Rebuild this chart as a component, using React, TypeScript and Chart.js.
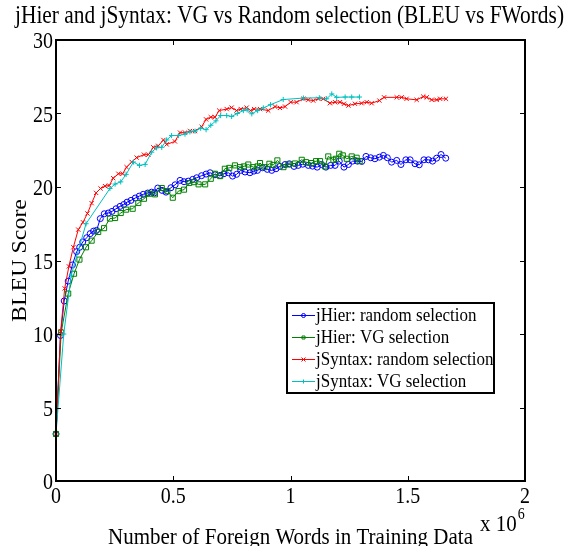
import React, { useEffect, useRef } from "react";
import { Chart, registerables } from "chart.js";

Chart.register(...registerables);

// ---------- text ----------
const titleText = "jHier and jSyntax: VG vs Random selection (BLEU vs FWords)";
const xAxisLabel = "Number of Foreign Words in Training Data";
const yAxisLabel = "BLEU Score";
const xExponentBase = "x 10";
const xExponent = "6";

// ---------- ticks ----------
const xTicks = [0, 0.5, 1, 1.5, 2];
const xTickLabels = ["0", "0.5", "1", "1.5", "2"];
const yTicks = [0, 5, 10, 15, 20, 25, 30];
const yTickLabels = ["0", "5", "10", "15", "20", "25", "30"];

// ---------- series names ----------
const seriesNames = [
  "jHier: random selection",
  "jHier: VG selection",
  "jSyntax: random selection",
  "jSyntax: VG selection",
];

// ---------- data (x in units of 10^6 foreign words) ----------
const hierRandomX = [0, 0.019, 0.035, 0.052, 0.07, 0.088, 0.101, 0.114, 0.131, 0.146, 0.16, 0.173, 0.189, 0.206, 0.223, 0.239, 0.256, 0.273, 0.289, 0.303, 0.32, 0.338, 0.355, 0.372, 0.391, 0.408, 0.42, 0.434, 0.452, 0.469, 0.49, 0.508, 0.529, 0.546, 0.564, 0.583, 0.6, 0.621, 0.64, 0.657, 0.678, 0.7, 0.716, 0.735, 0.753, 0.77, 0.788, 0.806, 0.827, 0.844, 0.859, 0.881, 0.901, 0.92, 0.938, 0.955, 0.977, 0.995, 1.015, 1.033, 1.052, 1.076, 1.094, 1.114, 1.133, 1.151, 1.171, 1.19, 1.208, 1.228, 1.247, 1.265, 1.285, 1.304, 1.322, 1.342, 1.36, 1.379, 1.396, 1.413, 1.431, 1.453, 1.471, 1.492, 1.51, 1.531, 1.549, 1.569, 1.588, 1.606, 1.623, 1.642, 1.662];
const hierRandomY = [3.2, 9.9, 12.25, 13.6, 14.7, 15.6, 15.9, 16.26, 16.55, 16.83, 17.0, 17.05, 17.85, 18.18, 18.23, 18.34, 18.52, 18.68, 18.81, 18.97, 19.09, 19.25, 19.38, 19.5, 19.59, 19.65, 19.6, 19.93, 19.77, 19.65, 19.95, 20.15, 20.45, 20.36, 20.4, 20.52, 20.63, 20.77, 20.88, 20.97, 20.83, 20.79, 20.9, 20.97, 20.74, 20.86, 21.13, 21.02, 20.97, 21.08, 21.13, 21.31, 21.2, 21.13, 21.24, 21.4, 21.53, 21.58, 21.4, 21.47, 21.55, 21.47, 21.42, 21.35, 21.53, 21.35, 21.47, 21.47, 21.76, 21.35, 21.53, 21.76, 21.76, 21.74, 22.08, 21.99, 21.92, 22.03, 22.15, 21.99, 21.69, 21.81, 21.53, 21.85, 21.85, 21.58, 21.51, 21.85, 21.85, 21.76, 21.96, 22.21, 21.96];

const hierVgX = [0, 0.022, 0.052, 0.077, 0.1, 0.128, 0.152, 0.18, 0.205, 0.23, 0.252, 0.276, 0.299, 0.327, 0.351, 0.375, 0.398, 0.422, 0.451, 0.475, 0.498, 0.522, 0.546, 0.568, 0.59, 0.608, 0.636, 0.66, 0.678, 0.7, 0.72, 0.739, 0.763, 0.785, 0.801, 0.82, 0.841, 0.859, 0.87, 0.889, 0.91, 0.927, 0.944, 0.97, 0.991, 1.019, 1.048, 1.066, 1.09, 1.109, 1.126, 1.147, 1.161, 1.183, 1.194, 1.208, 1.223, 1.24, 1.261, 1.282, 1.295];
const hierVgY = [3.2, 10.1, 12.75, 14.1, 15.06, 15.9, 16.35, 16.94, 17.2, 17.85, 17.89, 18.23, 18.46, 18.52, 18.91, 19.2, 19.54, 19.5, 19.93, 19.72, 19.27, 19.72, 19.82, 20.27, 20.33, 20.18, 20.18, 20.56, 20.9, 20.74, 21.24, 21.3, 21.47, 21.35, 21.4, 21.53, 21.35, 21.4, 21.63, 21.35, 21.58, 21.5, 21.81, 21.35, 21.53, 21.6, 21.85, 21.69, 21.63, 21.76, 21.76, 21.4, 22.08, 21.85, 21.92, 22.26, 22.15, 21.92, 22.08, 21.99, 21.76];

const syntaxRandomX = [0, 0.02, 0.037, 0.055, 0.074, 0.095, 0.115, 0.134, 0.152, 0.171, 0.19, 0.209, 0.227, 0.244, 0.266, 0.284, 0.301, 0.323, 0.344, 0.375, 0.394, 0.415, 0.436, 0.458, 0.472, 0.507, 0.529, 0.55, 0.571, 0.593, 0.621, 0.64, 0.66, 0.678, 0.696, 0.728, 0.749, 0.77, 0.788, 0.813, 0.83, 0.845, 0.87, 0.905, 0.934, 0.955, 0.977, 1.001, 1.026, 1.055, 1.076, 1.097, 1.119, 1.14, 1.168, 1.19, 1.211, 1.228, 1.247, 1.275, 1.303, 1.325, 1.346, 1.379, 1.399, 1.453, 1.474, 1.495, 1.538, 1.566, 1.581, 1.602, 1.623, 1.638, 1.663];
const syntaxRandomY = [3.2, 10.2, 13.1, 14.6, 15.9, 17.1, 17.6, 18.2, 18.9, 19.6, 19.9, 20.06, 20.1, 20.6, 20.9, 20.9, 21.35, 21.7, 22.0, 22.2, 22.2, 22.7, 22.8, 23.2, 22.9, 23.1, 23.7, 23.7, 23.8, 23.8, 24.1, 24.6, 24.75, 24.75, 25.2, 25.3, 25.4, 25.2, 25.3, 25.4, 25.2, 25.3, 25.3, 25.2, 25.47, 25.38, 25.47, 25.77, 25.77, 26.0, 25.93, 25.88, 26.0, 26.0, 25.7, 25.77, 25.77, 25.66, 25.54, 25.66, 25.7, 25.77, 25.7, 25.88, 26.1, 26.1, 26.1, 26.0, 25.93, 26.15, 26.1, 25.93, 25.93, 26.0, 26.0];

const syntaxVgX = [0, 0.033, 0.065, 0.128, 0.23, 0.252, 0.276, 0.299, 0.33, 0.356, 0.38, 0.408, 0.429, 0.451, 0.472, 0.493, 0.522, 0.55, 0.571, 0.593, 0.617, 0.64, 0.66, 0.682, 0.702, 0.728, 0.749, 0.773, 0.799, 0.815, 0.835, 0.86, 0.884, 0.915, 0.969, 1.055, 1.123, 1.154, 1.176, 1.197, 1.233, 1.261, 1.294];
const syntaxVgY = [3.2, 10.0, 14.0, 17.5, 19.9, 20.2, 20.35, 20.86, 21.7, 21.47, 21.54, 22.37, 22.67, 22.7, 23.2, 23.5, 23.5, 23.6, 23.75, 23.8, 24.0, 23.9, 24.2, 24.5, 24.86, 24.86, 24.8, 25.0, 25.2, 25.25, 24.98, 25.2, 25.38, 25.6, 25.95, 26.05, 26.07, 26.0, 26.33, 26.1, 26.12, 26.12, 26.12];

// ---------- styling ----------
const FONT = '"Liberation Serif", "Times New Roman", Times, serif';
const SY = 1.14; // vertical stretch of text, as in the reference

function toPoints(xs: number[], ys: number[]) {
  return xs.map((x, i) => ({ x, y: ys[i] }));
}

function drawText(
  ctx: CanvasRenderingContext2D,
  text: string,
  x: number,
  y: number,
  size: number,
  align: CanvasTextAlign
) {
  ctx.save();
  ctx.translate(x, y);
  ctx.scale(1, SY);
  ctx.font = `${size}px ${FONT}`;
  ctx.textAlign = align;
  ctx.textBaseline = "alphabetic";
  ctx.fillStyle = "#000";
  ctx.fillText(text, 0, 0);
  ctx.restore();
}

function drawMarker(
  ctx: CanvasRenderingContext2D,
  style: string,
  x: number,
  y: number,
  r: number,
  color: string
) {
  ctx.save();
  ctx.strokeStyle = color;
  ctx.lineWidth = 1;
  ctx.beginPath();
  if (style === "circle") {
    ctx.arc(x, y, r, 0, Math.PI * 2);
  } else if (style === "rect") {
    ctx.rect(x - r, y - r, 2 * r, 2 * r);
  } else if (style === "crossRot") {
    ctx.moveTo(x - r, y - r);
    ctx.lineTo(x + r, y + r);
    ctx.moveTo(x - r, y + r);
    ctx.lineTo(x + r, y - r);
  } else {
    ctx.moveTo(x - r, y);
    ctx.lineTo(x + r, y);
    ctx.moveTo(x, y - r);
    ctx.lineTo(x, y + r);
  }
  ctx.stroke();
  ctx.restore();
}

const decorPlugin = {
  id: "matlabDecor",
  beforeDraw(chart: any) {
    const ctx = chart.ctx as CanvasRenderingContext2D;
    ctx.save();
    ctx.fillStyle = "#fff";
    ctx.fillRect(0, 0, chart.width, chart.height);
    ctx.restore();
  },
  afterDraw(chart: any) {
    const ctx = chart.ctx as CanvasRenderingContext2D;
    const a = chart.chartArea;
    const xs = chart.scales.x;
    const ys = chart.scales.y;

    // inward tick marks
    ctx.save();
    ctx.strokeStyle = "#000";
    ctx.lineWidth = 1;
    ctx.beginPath();
    xs.ticks.forEach((t: any) => {
      const px = Math.round(xs.getPixelForValue(t.value)) + 0.5;
      ctx.moveTo(px, a.bottom);
      ctx.lineTo(px, a.bottom - 5);
      ctx.moveTo(px, a.top);
      ctx.lineTo(px, a.top + 5);
    });
    ys.ticks.forEach((t: any) => {
      const py = Math.round(ys.getPixelForValue(t.value)) + 0.5;
      ctx.moveTo(a.left, py);
      ctx.lineTo(a.left + 5, py);
      ctx.moveTo(a.right, py);
      ctx.lineTo(a.right - 5, py);
    });
    ctx.stroke();
    // axes box
    ctx.lineWidth = 2;
    ctx.strokeRect(a.left, a.top, a.right - a.left, a.bottom - a.top);
    ctx.restore();

    // tick labels
    xs.ticks.forEach((t: any, i: number) => {
      const px = xs.getPixelForValue(t.value);
      drawText(ctx, xTickLabels[i] ?? String(t.value), px, 503, 20, "center");
    });
    ys.ticks.forEach((t: any, i: number) => {
      const py = ys.getPixelForValue(t.value);
      drawText(ctx, yTickLabels[i] ?? String(t.value), a.left - 3, py + 8, 20, "right");
    });

    // title
    drawText(ctx, titleText, (a.left + a.right) / 2 - 1, 23, 21.4, "center");
    // x label
    drawText(ctx, xAxisLabel, (a.left + a.right) / 2, 544, 21, "center");
    // exponent
    ctx.save();
    ctx.font = `21px ${FONT}`;
    const baseW = ctx.measureText(xExponentBase).width;
    ctx.restore();
    drawText(ctx, xExponentBase, 480, 531, 21, "left");
    drawText(ctx, xExponent, 480 + baseW + 1, 519, 14, "left");

    // y label (rotated)
    ctx.save();
    ctx.translate(26, (a.top + a.bottom) / 2);
    ctx.rotate(-Math.PI / 2);
    ctx.scale(SY, 1);
    ctx.font = `21px ${FONT}`;
    ctx.textAlign = "center";
    ctx.textBaseline = "alphabetic";
    ctx.fillStyle = "#000";
    ctx.fillText(yAxisLabel, 0, 0);
    ctx.restore();

    // legend
    const lx = 287, ly = 303, lw = 207, lh = 90;
    ctx.save();
    ctx.fillStyle = "#fff";
    ctx.fillRect(lx, ly, lw, lh);
    ctx.strokeStyle = "#000";
    ctx.lineWidth = 2;
    ctx.strokeRect(lx, ly, lw, lh);
    ctx.restore();
    const rowY = [315, 337, 359, 381];
    chart.data.datasets.forEach((ds: any, i: number) => {
      const yy = rowY[i];
      ctx.save();
      ctx.strokeStyle = ds.borderColor;
      ctx.lineWidth = 1;
      ctx.beginPath();
      ctx.moveTo(292, yy + 0.5);
      ctx.lineTo(315, yy + 0.5);
      ctx.stroke();
      ctx.restore();
      drawMarker(ctx, ds.pointStyle, 303.5, yy + 0.5, ds.pointStyle === "rect" ? 1.5 : 2, ds.borderColor);
      drawText(ctx, ds.label, 316, yy + 6, 17, "left");
    });
  },
};

export default function App() {
  const canvasRef = useRef<HTMLCanvasElement | null>(null);

  useEffect(() => {
    document.body.style.margin = "0";
    const canvas = canvasRef.current;
    if (!canvas) return;

    const common = {
      borderWidth: 1,
      pointBorderWidth: 1,
      pointBackgroundColor: "rgba(0,0,0,0)",
      showLine: true,
      tension: 0,
      clip: false as any,
      fill: false,
    };

    const chart = new Chart(canvas, {
      type: "line",
      data: {
        datasets: [
          {
            ...common,
            label: seriesNames[0],
            data: toPoints(hierRandomX, hierRandomY),
            borderColor: "#0000ff",
            pointBorderColor: "#0000ff",
            pointStyle: "circle",
            pointRadius: 3,
            order: 4,
          },
          {
            ...common,
            label: seriesNames[1],
            data: toPoints(hierVgX, hierVgY),
            borderColor: "#008000",
            pointBorderColor: "#008000",
            pointStyle: "rect",
            pointRadius: 3.6,
            order: 3,
          },
          {
            ...common,
            label: seriesNames[2],
            data: toPoints(syntaxRandomX, syntaxRandomY),
            borderColor: "#ff0000",
            pointBorderColor: "#ff0000",
            pointStyle: "crossRot",
            pointRadius: 3,
            order: 2,
          },
          {
            ...common,
            label: seriesNames[3],
            data: toPoints(syntaxVgX, syntaxVgY),
            borderColor: "#00bfbf",
            pointBorderColor: "#00bfbf",
            pointStyle: "cross",
            pointRadius: 2.6,
            order: 1,
          },
        ] as any,
      },
      options: {
        animation: false,
        responsive: false,
        devicePixelRatio: 1,
        layout: { padding: { left: 0, top: 40, right: 50, bottom: 0 } },
        plugins: {
          legend: { display: false },
          tooltip: { enabled: false },
          title: { display: false },
        },
        scales: {
          x: {
            type: "linear",
            min: 0,
            max: 2,
            afterBuildTicks: (scale: any) => {
              scale.ticks = xTicks.map((v) => ({ value: v }));
            },
            afterFit: (scale: any) => {
              scale.height = 65;
            },
            ticks: { display: false },
            grid: { display: false, drawTicks: false },
            border: { display: false },
          },
          y: {
            type: "linear",
            min: 0,
            max: 30,
            afterBuildTicks: (scale: any) => {
              scale.ticks = yTicks.map((v) => ({ value: v }));
            },
            afterFit: (scale: any) => {
              scale.width = 56;
            },
            ticks: { display: false },
            grid: { display: false, drawTicks: false },
            border: { display: false },
          },
        },
      },
      plugins: [decorPlugin],
    });

    return () => chart.destroy();
  }, []);

  return (
    <canvas
      ref={canvasRef}
      width={575}
      height={546}
      style={{ position: "fixed", left: 0, top: 0, width: 575, height: 546 }}
    />
  );
}
